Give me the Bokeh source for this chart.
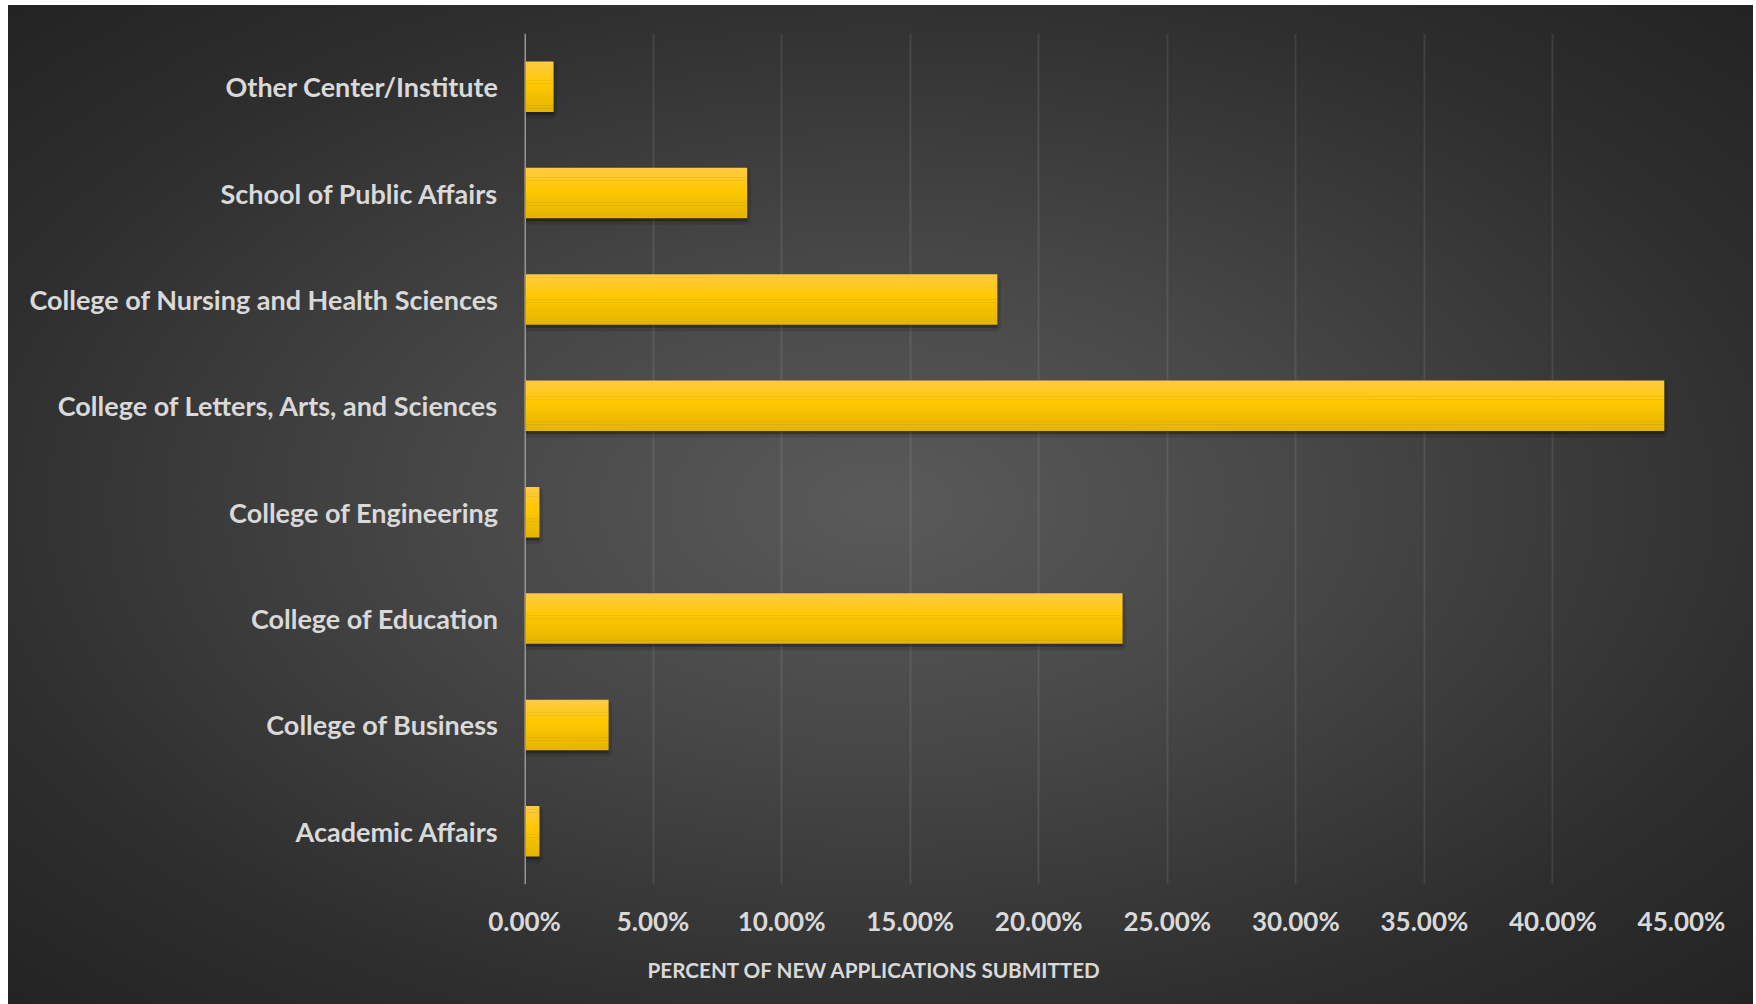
import numpy as np
from bokeh.plotting import figure
from bokeh.models import (FactorRange, Span, Title, NumeralTickFormatter,
                          ColumnDataSource, FixedTicker)
from bokeh.transform import dodge
from bokeh.embed import file_html
from bokeh.resources import INLINE

# ---------------- data (bottom to top) ----------------
categories = [
    "Academic Affairs",
    "College of Business",
    "College of Education",
    "College of Engineering",
    "College of Letters, Arts, and Sciences",
    "College of Nursing and Health Sciences",
    "School of Public Affairs",
    "Other Center/Institute",
]
shares = [0.0058, 0.0327, 0.2326, 0.0058, 0.4433, 0.1839, 0.0866, 0.0113]
x_ticks = [0.0, 0.05, 0.10, 0.15, 0.20, 0.25, 0.30, 0.35, 0.40, 0.45]
axis_title = "PERCENT OF NEW APPLICATIONS SUBMITTED"

FONT = "Lato"
TEXT = "#d9d9d9"
W, H = 1745, 999

src = ColumnDataSource(dict(cat=categories, share=shares))

p = figure(width=W, height=H, y_range=FactorRange(*categories),
           x_range=(0, 0.45), output_backend="svg", toolbar_location=None,
           min_border_left=516, min_border_right=72, min_border_top=28,
           min_border_bottom=120)
p.styles = {"background": "radial-gradient(ellipse farthest-corner at 50% 50%, "
                          "#5a5a5a 0%, #474747 35%, #2e2e2e 75%, #232323 100%)",
            "margin-left": "8px", "margin-top": "5px"}
p.border_fill_alpha = 0
p.background_fill_alpha = 0
p.outline_line_color = None

# grid
p.xgrid.ticker = FixedTicker(ticks=x_ticks)
p.xgrid.grid_line_color = "white"
p.xgrid.grid_line_alpha = 0.09
p.xgrid.grid_line_width = 2
p.ygrid.grid_line_color = None

# shadow
p.hbar(y=dodge("cat", -0.03, range=p.y_range), left=0, right="share", height=0.47,
       source=src, fill_color="black", fill_alpha=0.28,
       line_color="black", line_alpha=0.12, line_width=7)

# bars with vertical gradient built from slices
N = 16
h = 0.47
stops = [(0.0, (255, 202, 70)), (0.45, (255, 200, 0)), (1.0, (228, 180, 0))]
def col(t):
    for (t0, c0), (t1, c1) in zip(stops[:-1], stops[1:]):
        if t0 <= t <= t1:
            f = (t - t0) / (t1 - t0)
            return "#%02x%02x%02x" % tuple(int(round(a + (b - a) * f)) for a, b in zip(c0, c1))
    return "#%02x%02x%02x" % stops[-1][1]
for i in range(N):
    t = (i + 0.5) / N
    off = h / 2 - (i + 0.5) * h / N
    p.hbar(y=dodge("cat", off, range=p.y_range), left=0, right="share",
           height=h / N + 0.004, source=src, fill_color=col(t), line_color=None)

# zero axis line
p.add_layout(Span(location=0, dimension="height", line_color="#959595", line_width=3))

# axes
p.xaxis.ticker = FixedTicker(ticks=x_ticks)
p.xaxis.formatter = NumeralTickFormatter(format="0.00%")
for ax in (p.xaxis, p.yaxis):
    ax.axis_line_color = None
    ax.major_tick_line_color = None
    ax.minor_tick_line_color = None
    ax.major_tick_out = 0
    ax.major_label_text_font = FONT
    ax.major_label_text_font_style = "bold"
    ax.major_label_text_color = TEXT
p.xaxis.major_label_text_font_size = "26px"
p.xaxis.major_label_standoff = 20
p.yaxis.major_label_text_font_size = "27px"
p.yaxis.major_label_standoff = 26

p.add_layout(Title(text=axis_title, align="left", offset=123, standoff=32,
                   text_font=FONT, text_font_size="20.7px", text_font_style="bold",
                   text_color=TEXT), "below")

open("out.html", "w").write(file_html(p, INLINE))
